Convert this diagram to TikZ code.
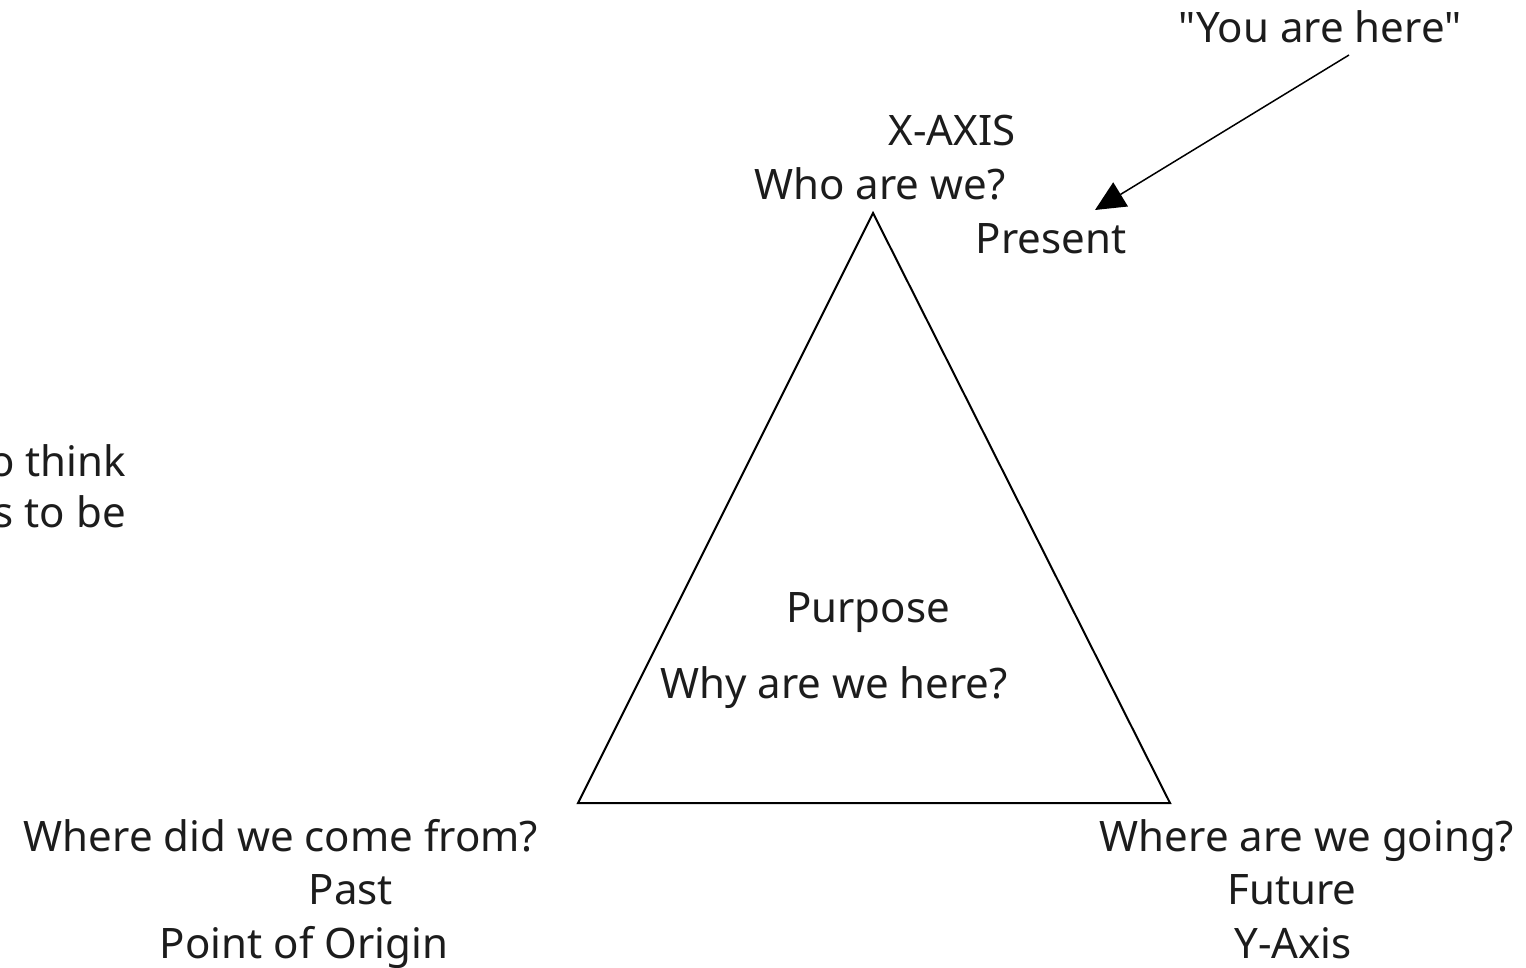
\documentclass[tikz,border=0pt]{standalone}
\usepackage{fontspec}
\setmainfont{Noto Sans}[Ligatures=TeXOff]
\usetikzlibrary{arrows.meta}
\definecolor{ink}{HTML}{1C1C1C}

\begin{document}
\begin{tikzpicture}[x=1pt, y=-1pt,
    every node/.style={text=ink, inner sep=0pt, text height=30pt, text depth=0pt,
      font=\fontsize{42}{51}\selectfont}]
  \clip (0, 0) rectangle (1526, 968);

  \coordinate (top) at (873, 213);
  \coordinate (left) at (578, 803);
  \coordinate (right) at (1170, 803);
  \draw[line width=2pt, line join=miter] (top) -- (left) -- (right) -- cycle;

  \node (xaxis) at (952, 131) {X-AXIS};
  \node (who) at (880, 185) {Who are we?};
  \node (present) at (1051, 239) {Present};
  \node (here) at (1320, 28) {"You are here"};

  \node[anchor=east] (think) at (126, 461) {o think};
  \node[anchor=east] (tobe) at (126, 512) {s to be};

  \node (purpose) at (868, 607) {Purpose};
  \node (why) at (834, 683) {Why are we here?};

  \node (wherefrom) at (281, 836) {Where did we come from?};
  \node (past) at (351, 889) {Past};
  \node (origin) at (304, 943) {Point of Origin};

  \node (whereto) at (1307, 836) {Where are we going?};
  \node (future) at (1292, 889) {Future};
  \node (yaxis) at (1293, 943) {Y-Axis};

  \coordinate (hstart) at (1349, 55);
  \coordinate (htip) at (1095, 210);
  \draw[line width=1.5pt, -{Triangle[length=30pt, width=28pt]}] (hstart) -- (htip);
\end{tikzpicture}
\end{document}
